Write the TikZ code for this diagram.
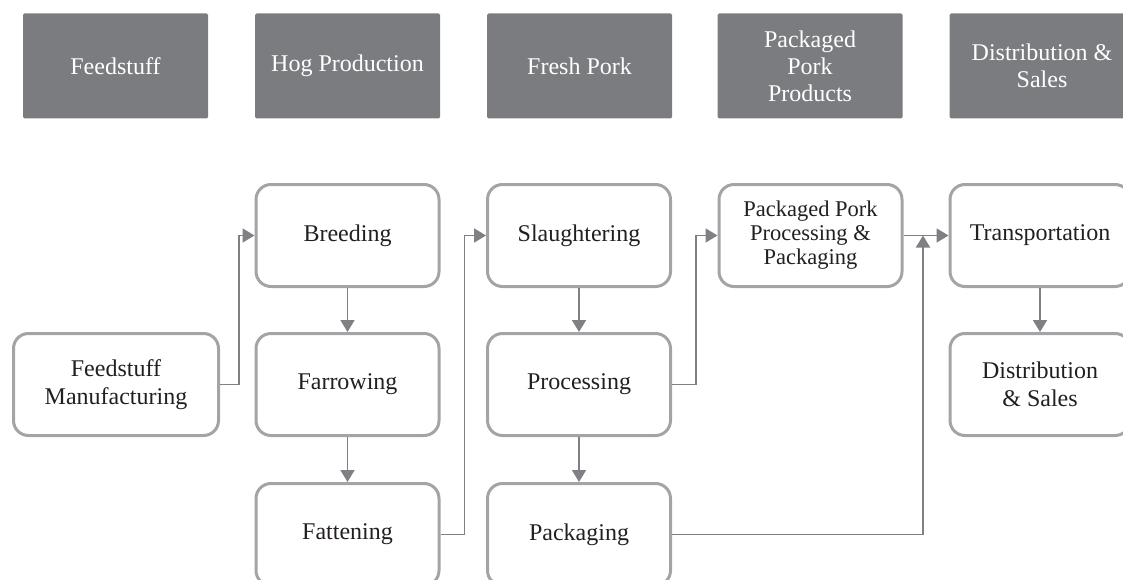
\documentclass[tikz,border=0pt]{standalone}
\usepackage{fontspec}
\setmainfont{Liberation Serif}
\usetikzlibrary{positioning,arrows.meta}
\definecolor{grisEtape}{RGB}{123,124,128}
\definecolor{grisBord}{RGB}{163,164,167}
\definecolor{grisFleche}{RGB}{128,128,132}
\definecolor{texteFonce}{RGB}{35,31,32}

\begin{document}
\begin{tikzpicture}[x=1pt, y=-1pt,
    stage/.style={fill=grisEtape, text=white, rounded corners=1.5pt, minimum width=185pt, minimum height=105pt, align=center, inner sep=2pt, font=\fontsize{24}{27}\selectfont},
    box/.style={draw=grisBord, line width=3pt, rounded corners=15pt, minimum width=183pt, minimum height=102pt, align=center, text=texteFonce, font=\fontsize{24}{28}\selectfont},
    flow/.style={-{Triangle[length=12pt,width=14pt]}, draw=grisFleche, line width=1.8pt}
]
\useasboundingbox (0,0) rectangle (1123,580);

% Stages
\node[stage] (hFeed) at (115.5,66) {Feedstuff};
\node[stage] (hHog) at (347.5,66) {Hog Production};
\node[stage] (hFresh) at (579.5,66) {Fresh Pork};
\node[stage] (hPack) at (810,66) {Packaged\\Pork\\Products};
\node[stage] (hDist) at (1042,66) {Distribution \&\\Sales};

% Feedstuff + hog production
\node[box, minimum width=205pt] (feedmfg) at (116,384.5) {Feedstuff\\Manufacturing};
\node[box] (breeding) at (347.5,235.5) {Breeding};
\node[box] (farrowing) at (347.5,384.5) {Farrowing};
\node[box] (fattening) at (347.5,534.5) {Fattening};

% Fresh pork
\node[box] (slaughter) at (579,235.5) {Slaughtering};
\node[box] (processing) at (579,384.5) {Processing};
\node[box] (packaging) at (579,534.5) {Packaging};

% Packaged pork
\node[box, font=\fontsize{22.5}{24}\selectfont] (ppp) at (810.5,235.5) {Packaged Pork\\Processing \&\\Packaging};

% Distribution
\node[box, minimum width=180pt] (transport) at (1040,235.5) {Transportation};
\node[box, minimum width=180pt] (distsales) at (1040,384.5) {Distribution\\\& Sales};

\coordinate (join) at (923,235.5);

\draw[flow] (feedmfg.east) -- ++(19,0) |- (breeding.west);
\draw[flow] (breeding) -- (farrowing);
\draw[flow] (farrowing) -- (fattening);
\draw[flow] (fattening.east) -- ++(24,0) |- (slaughter.west);
\draw[flow] (slaughter) -- (processing);
\draw[flow] (processing) -- (packaging);
\draw[flow] (processing.east) -- ++(24,0) |- (ppp.west);
\draw[flow] (ppp.east) -- (transport.west);
\draw[flow] (packaging.east) -| (join);
\draw[flow] (transport) -- (distsales);
\end{tikzpicture}
\end{document}
